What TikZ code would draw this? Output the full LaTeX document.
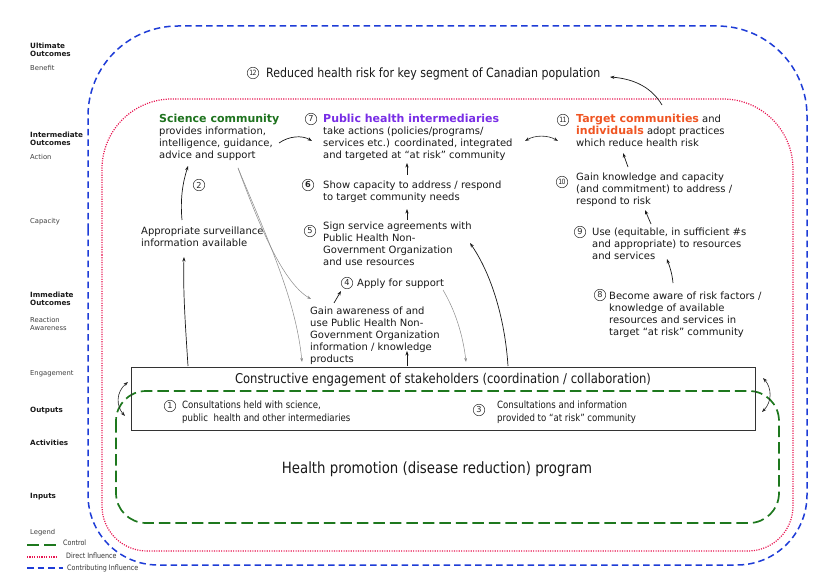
\documentclass[tikz,border=0pt]{standalone}
\usepackage{fontspec}
\setmainfont{DejaVu Sans}
\newfontfamily\narrowfont[FakeStretch=0.86]{DejaVu Sans}
\usetikzlibrary{arrows.meta}
\definecolor{scigreen}{RGB}{30,115,30}
\definecolor{phpurple}{RGB}{120,45,230}
\definecolor{tgorange}{RGB}{240,85,35}
\definecolor{ctrlgreen}{RGB}{30,120,30}
\definecolor{dirred}{RGB}{232,20,80}
\definecolor{contblue}{RGB}{30,60,215}
\newcommand\ttlfont{\fontsize{11}{13}\selectfont\bfseries}
\begin{document}
\begin{tikzpicture}[x=1pt,y=-1pt,
  txt/.style={anchor=north west, align=left, inner sep=0pt, font=\fontsize{10}{12}\selectfont, text=black!90},
  boxtxt/.style={anchor=north west, align=left, inner sep=0pt, font=\narrowfont\fontsize{10}{13}\selectfont, text=black!90},
  cn/.style={draw=black!80, circle, line width=0.5pt, inner sep=0pt, minimum size=11.5pt, font=\fontsize{8.2}{8}\selectfont, text=black!85},
  cnn/.style={cn, font=\narrowfont\fontsize{7.2}{7}\selectfont},
  arr/.style={-{Stealth[length=4.5pt,width=3.2pt]}, line width=0.7pt, black!90},
  darr/.style={{Stealth[length=4.5pt,width=3.2pt]}-{Stealth[length=4.5pt,width=3.2pt]}, line width=0.6pt, black!85},
  garr/.style={-{Stealth[length=4pt,width=2.8pt]}, line width=0.5pt, black!45},
  lbl/.style={anchor=north west, align=left, inner sep=0pt, font=\fontsize{6.8}{8.2}\selectfont, text=black!75},
  lblb/.style={anchor=north west, align=left, inner sep=0pt, font=\fontsize{7.2}{8.2}\selectfont\bfseries, text=black!90},
  lgt/.style={anchor=west, inner sep=0pt, font=\narrowfont\fontsize{7.4}{8}\selectfont, text=black!80},
  ctrl/.style={ctrlgreen, line width=1.7pt, dash pattern=on 11.5pt off 5pt},
  direct/.style={dirred, line width=1.2pt, dash pattern=on 1.1pt off 1.3pt},
  contrib/.style={contblue, line width=1.5pt, dash pattern=on 6.5pt off 4pt}
]
\fill[white] (0,0) rectangle (820,588);
\path[use as bounding box] (0,0) rectangle (820,588);

% boundaries
\draw[contrib] (88,300) [rounded corners=90pt] -- (88,26) -- (807,26) -- (807,300) [rounded corners=70pt] -- (807,565) -- (88,565) -- cycle;
\draw[direct] (102,300) [rounded corners=70pt] -- (102,99) -- (793,99) -- (793,300) [rounded corners=45pt] -- (793,551) -- (102,551) -- cycle;
\draw[ctrl, rounded corners=30pt] (116,391) rectangle (779,523);

% left labels
\node[lblb] (lu) at (30,42.5) {Ultimate\\Outcomes};
\node[lbl] (lben) at (30,65) {Benefit};
\node[lblb] (li) at (30,131.5) {Intermediate\\Outcomes};
\node[lbl] (lact) at (30,154) {Action};
\node[lbl] (lcap) at (30,218) {Capacity};
\node[lblb] (lim) at (30,291.5) {Immediate\\Outcomes};
\node[lbl] (lrea) at (30,317) {Reaction\\Awareness};
\node[lbl] (leng) at (30,370) {Engagement};
\node[lblb] (lout) at (30,407) {Outputs};
\node[lblb] (lactv) at (30,440) {Activities};
\node[lblb] (linp) at (30,493) {Inputs};
\node[lbl] (lleg) at (30,529) {Legend};
\coordinate (lg1a) at (27,545); \coordinate (lg1b) at (58,545);
\coordinate (lg2a) at (27,557); \coordinate (lg2b) at (58,557);
\coordinate (lg3a) at (27,568); \coordinate (lg3b) at (63,568);
\draw[ctrl, dash pattern=on 12pt off 5pt] (lg1a) -- (lg1b);
\draw[direct] (lg2a) -- (lg2b);
\draw[contrib] (lg3a) -- (lg3b);
\node[lgt] (lg1) at (63,543) {Control};
\node[lgt] (lg2) at (66,556) {Direct Influence};
\node[lgt] (lg3) at (67,568) {Contributing Influence};

% ultimate outcome
\node[cnn] (c12) at (253,73) {1\kern-0.6pt2};
\node[anchor=north west, inner sep=0pt, font=\narrowfont\fontsize{12.8}{14}\selectfont, text=black!90] (reduced) at (266,67.5) {Reduced health risk for key segment of Canadian population};

% intermediate outcomes
\node[txt] (sci) at (159,114.3) {{\ttlfont\color{scigreen}Science community}\\provides information,\\intelligence, guidance,\\advice and support};
\node[cn] (c7) at (311,119) {7};
\node[txt] (phi) at (323,114.3) {{\ttlfont\color{phpurple}Public health intermediaries}\\take actions (policies/programs/\\services etc.) coordinated, integrated\\and targeted at “at risk” community};
\node[cnn] (c11) at (563,120) {1\kern-0.6pt1};
\node[txt] (tgt) at (576,114.3) {{\ttlfont\color{tgorange}Target communities} and\\{\ttlfont\color{tgorange}individuals} adopt practices\\which reduce health risk};

\node[cn] (c6) at (308,185) {\bfseries 6};
\node[txt] (cap6) at (323,180.7) {Show capacity to address / respond\\to target community needs};
\node[cn] (c5) at (310,231) {5};
\node[txt] (sign5) at (323,221.7) {Sign service agreements with\\Public Health Non-\\Government Organization\\and use resources};
\node[cn] (c4) at (347,283) {4};
\node[txt] (apply4) at (357,278.7) {Apply for support};
\node[txt] (gain) at (310,306.7) {Gain awareness of and\\use Public Health Non-\\Government Organization\\information / knowledge\\products};
\node[cn] (c2) at (199,185) {2};
\node[txt] (surv) at (141,226.7) {Appropriate surveillance\\information available};

\node[cnn] (c10) at (562,182) {1\kern-0.6pt0};
\node[txt] (gk10) at (576,172.7) {Gain knowledge and capacity\\(and commitment) to address /\\respond to risk};
\node[cn] (c9) at (580,232) {9};
\node[txt] (use9) at (592,227.7) {Use (equitable, in sufficient \#s\\and appropriate) to resources\\and services};
\node[cn] (c8) at (600,295) {8};
\node[txt] (aware8) at (609,291.7) {Become aware of risk factors /\\knowledge of available\\resources and services in\\target “at risk” community};

% engagement box
\node[draw=black!80, line width=1.3pt, minimum width=624pt, minimum height=63pt, inner sep=0pt, anchor=north west] (box) at (131,367) {};
\node[font=\narrowfont\fontsize{13.5}{15}\selectfont, text=black!90, inner sep=0pt] (boxtitle) at (443,380) {Constructive engagement of stakeholders (coordination / collaboration)};
\node[cn] (c1) at (170,406) {1};
\node[boxtxt] (cons1) at (182,400.7) {Consultations held with science,\\public\ \ health and other intermediaries};
\node[cn] (c3) at (479,410) {3};
\node[boxtxt] (cons3) at (497,400.7) {Consultations and information\\provided to “at risk” community};
\node[font=\narrowfont\fontsize{15.5}{18}\selectfont, text=black!90, inner sep=0pt] (prog) at (437,469) {Health promotion (disease reduction) program};

% arrow end points
\coordinate (a1s) at (279,143); \coordinate (a1e) at (312,141);
\coordinate (a2s) at (525,141); \coordinate (a2e) at (558,141);
\coordinate (a3s) at (662,105); \coordinate (a3e) at (610,77);
\coordinate (a4s) at (407,175); \coordinate (a4e) at (407,163);
\coordinate (a5s) at (407,220); \coordinate (a5e) at (407,209);
\coordinate (a6s) at (334,303); \coordinate (a6e) at (341,291);
\coordinate (a7s) at (407,366); \coordinate (a7e) at (407,351);
\coordinate (a8s) at (508,366); \coordinate (a8e) at (470,243);
\coordinate (a9s) at (188,366); \coordinate (a9e) at (184,257);
\coordinate (a10s) at (182,220); \coordinate (a10e) at (188,166);
\coordinate (g1s) at (238,168); \coordinate (g1e) at (302,362);
\coordinate (g2e) at (311,299);
\coordinate (g3s) at (443,290); \coordinate (g3e) at (466,362);
\coordinate (a14s) at (651,224); \coordinate (a14e) at (645,210);
\coordinate (a15s) at (673,283); \coordinate (a15e) at (667,259);
\coordinate (a16s) at (628,167); \coordinate (a16e) at (623,153);
\coordinate (a17s) at (128,382); \coordinate (a17e) at (125,416);
\coordinate (a18s) at (763,378); \coordinate (a18e) at (762,412);

\draw[arr] (a1s) .. controls (289,136) and (302,135) .. (a1e);
\draw[darr] (a2s) .. controls (535,135) and (548,135) .. (a2e);
\draw[arr] (a3s) .. controls (652,88) and (635,79) .. (a3e);
\draw[arr] (a4s) -- (a4e);
\draw[arr] (a5s) -- (a5e);
\draw[arr] (a6s) -- (a6e);
\draw[arr] (a7s) -- (a7e);
\draw[arr] (a8s) .. controls (505,320) and (492,275) .. (a8e);
\draw[arr] (a9s) .. controls (185,320) and (183,290) .. (a9e);
\draw[arr] (a10s) .. controls (180,198) and (183,182) .. (a10e);
\draw[garr] (g1s) .. controls (268,240) and (296,300) .. (g1e);
\draw[garr] (g1s) .. controls (258,222) and (282,282) .. (g2e);
\draw[garr] (g3s) .. controls (455,310) and (463,335) .. (g3e);
\draw[arr] (a14s) -- (a14e);
\draw[arr] (a15s) .. controls (672,272) and (669,265) .. (a15e);
\draw[arr] (a16s) -- (a16e);
\draw[darr] (a17s) .. controls (116,392) and (116,406) .. (a17e);
\draw[darr] (a18s) .. controls (772,388) and (772,402) .. (a18e);
\end{tikzpicture}
\end{document}
